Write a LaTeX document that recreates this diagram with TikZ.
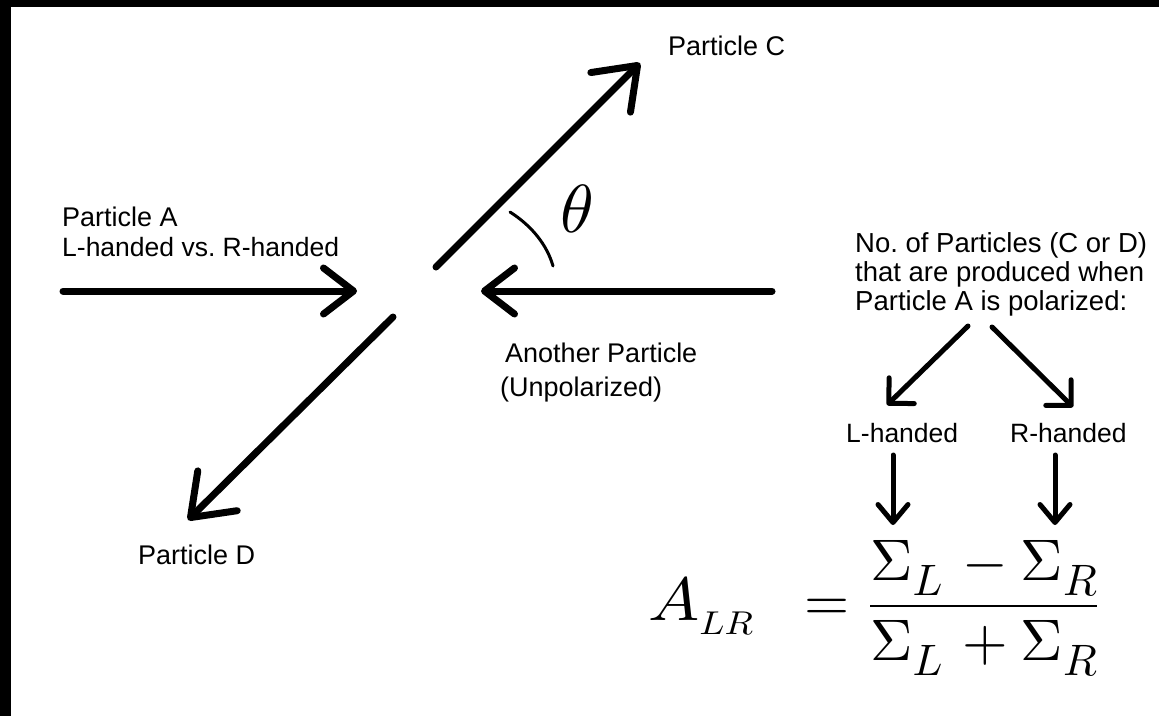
\documentclass[tikz,border=0pt]{standalone}
\usepackage[no-math]{fontspec}
\setmainfont{Liberation Sans}
\DeclareFontShape{OT1}{cmr}{m}{n}{<-> cmr10}{}
\DeclareFontShape{OML}{cmm}{m}{it}{<-> cmmi10}{}
\DeclareFontShape{OMS}{cmsy}{m}{n}{<-> cmsy10}{}
\DeclareFontShape{OMX}{cmex}{m}{n}{<-> cmex10}{}
\usetikzlibrary{arrows.meta}
\frenchspacing
\newcommand\lsub[1]{\raisebox{-15pt}{\fontsize{44}{50}\selectfont$#1$}}
\newcommand\asub[1]{\raisebox{-14pt}{\fontsize{33}{38}\selectfont$#1$}}
\begin{document}
\begin{tikzpicture}[x=1pt,y=-1pt,
  lbl/.style={anchor=base west, inner sep=0pt, font=\fontsize{27}{30}\selectfont},
  lbls/.style={lbl, font=\fontsize{26.5}{30}\selectfont},
  lblb/.style={lbl, font=\fontsize{27.5}{30}\selectfont},
  mathlbl/.style={anchor=base west, inner sep=0pt},
  bigarrow/.style={line width=7pt, line cap=round, -{Straight Barb[length=30pt,width=46pt,round]}},
  diagarrow/.style={line width=7pt, line cap=round, -{Straight Barb[length=38pt,width=56pt,round]}},
  smallarrow/.style={line width=5pt, line cap=round, -{Straight Barb[length=18pt,width=36pt,round]}},
  downarrow/.style={line width=5pt, line cap=round, -{Straight Barb[length=18pt,width=30pt,round]}},
  arcline/.style={line width=3pt, line cap=round}
]
\useasboundingbox (0,0) rectangle (1159,716);
\fill[white] (0,0) rectangle (1159,716);
\fill[black] (0,0) rectangle (11,716);
\fill[black] (0,0) rectangle (1159,7);

% labels
\node[lbl] (pc) at (668,55) {Particle C};
\node[lbl] (pa1) at (62,226) {Particle A};
\node[lbls] (pa2) at (62,256) {L-handed vs. R-handed};
\node[lbl] (pd) at (138,564) {Particle D};
\node[lbl] (ap1) at (505,362) {Another Particle};
\node[lbl] (ap2) at (500,396) {(Unpolarized)};
\node[lblb] (n1) at (855,252) {No. of Particles (C or D)};
\node[lblb] (n2) at (855,281) {that are produced when};
\node[lblb] (n3) at (855,310) {Particle A is polarized:};
\node[lbls] (lh) at (846,442) {L-handed};
\node[lbls] (rh) at (1010,442) {R-handed};
\node[mathlbl, font=\fontsize{68}{80}\selectfont] (th) at (560,232) {$\theta$};

% formula
\node[mathlbl] (alr) at (648,620)
  {\scalebox{1.12}[1]{\fontsize{61}{70}\selectfont$A\asub{LR}$}};
\node[mathlbl, font=\fontsize{58}{70}\selectfont] (eq) at (804,620.6) {$=$};
\node[mathlbl, font=\fontsize{58.6}{70}\selectfont] (frac) at (869,620.6)
  {$\displaystyle\frac{\Sigma\lsub{L}\hspace{6.5pt}-\Sigma\lsub{R}}{\Sigma\lsub{L}\hspace{6.5pt}+\Sigma\lsub{R}}$};

% coordinates
\coordinate (aS) at (63,291);   \coordinate (aE) at (357,291);
\coordinate (bS) at (772,291);  \coordinate (bE) at (481,291);
\coordinate (cS) at (436,267);  \coordinate (cE) at (640,63);
\coordinate (dS) at (393,317);  \coordinate (dE) at (188,520);
\coordinate (lS) at (968,326);  \coordinate (lE) at (887,405);
\coordinate (rS) at (992,327);  \coordinate (rE) at (1073,407);
\coordinate (ldS) at (893,455); \coordinate (ldE) at (893,525);
\coordinate (rdS) at (1055,455);\coordinate (rdE) at (1055,525);
\coordinate (t1) at (510,212);  \coordinate (t2) at (553,266);

\draw[bigarrow] (aS) -- (aE);
\draw[bigarrow] (bS) -- (bE);
\draw[diagarrow] (cS) -- (cE);
\draw[diagarrow] (dS) -- (dE);
\draw[smallarrow] (lS) -- (lE);
\draw[smallarrow] (rS) -- (rE);
\draw[downarrow] (ldS) -- (ldE);
\draw[downarrow] (rdS) -- (rdE);
\draw[arcline] (t1) .. controls (532,226) and (547,245) .. (t2);
\end{tikzpicture}
\end{document}
